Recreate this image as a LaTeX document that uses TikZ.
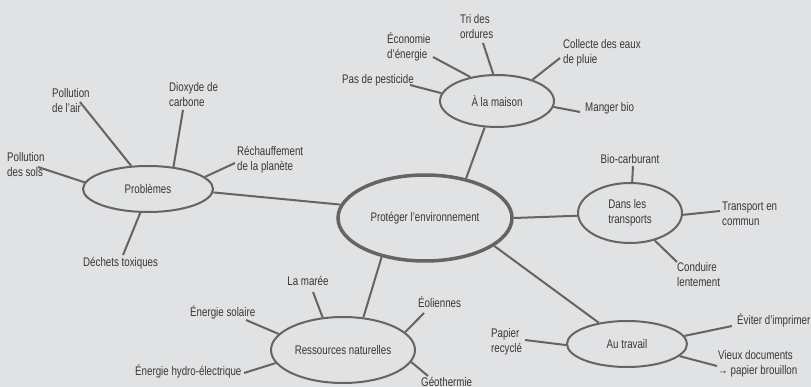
\documentclass[tikz,border=0pt]{standalone}
\usepackage{fontspec}
\setmainfont{Liberation Sans}[FakeStretch=0.78]
\usetikzlibrary{shapes.geometric}
\definecolor{bg}{RGB}{225,226,228}
\definecolor{ln}{RGB}{100,100,100}
\definecolor{tx}{RGB}{55,55,55}
\tikzset{
  base/.style={font=\fontsize{12.5}{15}\selectfont, text=tx},
  leaf/.style={base, inner sep=0pt, align=left},
  hub/.style={base, ellipse, draw=ln, line width=2pt, inner sep=0pt, align=left},
  conn/.style={draw=ln, line width=2pt},
}
\begin{document}
\begin{tikzpicture}[x=1pt,y=-1pt]
\fill[bg] (0,0) rectangle (811,387);
\useasboundingbox (0,0) rectangle (811,387);

% hubs
\node[hub, line width=3.5pt, minimum width=174pt, minimum height=86pt] (central) at (425,218) {Protéger l'environnement};
\node[hub, minimum width=130pt, minimum height=46pt] (prob) at (148,189) {Problèmes};
\node[hub, minimum width=114pt, minimum height=52pt] (maison) at (497,101) {À la maison};
\node[hub, minimum width=104pt, minimum height=60pt] (trans) at (630,213) {Dans les\\transports};
\node[hub, minimum width=144pt, minimum height=66pt] (ress) at (343,350) {Ressources naturelles};
\node[hub, minimum width=120pt, minimum height=46pt] (trav) at (627,344) {Au travail};

% leaves
\node[leaf, anchor=west] (air) at (52,101) {Pollution\\de l'air};
\node[leaf, anchor=west] (diox) at (169,95) {Dioxyde de\\carbone};
\node[leaf, anchor=west] (rech) at (237,160) {Réchauffement\\de la planète};
\node[leaf, anchor=west] (sols) at (7,165) {Pollution\\des sols};
\node[leaf, anchor=west] (dech) at (83,263) {Déchets toxiques};

\node[leaf, anchor=west] (pest) at (342,80) {Pas de pesticide};
\node[leaf, anchor=west] (eco) at (387,47) {Économie\\d'énergie};
\node[leaf, anchor=west] (tri) at (460,27) {Tri des\\ordures};
\node[leaf, anchor=west] (coll) at (563,53) {Collecte des eaux\\de pluie};
\node[leaf, anchor=west] (mang) at (585,108) {Manger bio};

\node[leaf] (bio) at (630,159) {Bio-carburant};
\node[leaf, anchor=west] (tec) at (722,214) {Transport en\\commun};
\node[leaf, anchor=west] (cond) at (677,275) {Conduire\\lentement};

\node[leaf] (maree) at (308,281) {La marée};
\node[leaf, anchor=west] (sol) at (190,312) {Énergie solaire};
\node[leaf, anchor=west] (hydro) at (135,371) {Énergie hydro-électrique};
\node[leaf, anchor=west] (eol) at (418,302) {Éoliennes};
\node[leaf, anchor=west] (geo) at (421,382) {Géothermie};

\node[leaf, anchor=west] (pap) at (491,342) {Papier\\recyclé};
\node[leaf, anchor=west] (evit) at (737,320) {Éviter d'imprimer};
\node[leaf, anchor=west] (vieux) at (718,364) {Vieux documents\\→ papier brouillon};

% free ends
\coordinate (e-air) at (80,102);
\coordinate (e-diox) at (183,110);
\coordinate (e-rech) at (235,163);
\coordinate (e-sols) at (38,167);
\coordinate (e-dech) at (123,255);
\coordinate (e-pest) at (410,85);
\coordinate (e-eco) at (433,57);
\coordinate (e-tri) at (483,43);
\coordinate (e-coll) at (560,58);
\coordinate (e-mang) at (580,112);
\coordinate (e-bio) at (633,166);
\coordinate (e-tec) at (720,211);
\coordinate (e-cond) at (677,262);
\coordinate (e-maree) at (313,292);
\coordinate (e-sol) at (246,320);
\coordinate (e-hydro) at (244,373);
\coordinate (e-eol) at (424,313);
\coordinate (e-geo) at (428,376);
\coordinate (e-pap) at (525,340);
\coordinate (e-evit) at (732,326);
\coordinate (e-vieux) at (717,366);

% connectors between hubs
\draw[conn] (central.171) -- (prob.357);
\draw[conn] (central.44) -- (maison.245);
\draw[conn] (central.0) -- (trans.183);
\draw[conn] (central.338) -- (trav.143);
\draw[conn] (central.222) -- (ress.58);

% leaf connectors
\draw[conn] (e-air) -- (prob.126);
\draw[conn] (e-diox) -- (prob.41);
\draw[conn] (e-rech) -- (prob.12);
\draw[conn] (e-sols) -- (prob.174);
\draw[conn] (e-dech) -- (prob.252);

\draw[conn] (e-pest) -- (maison.172);
\draw[conn] (e-eco) -- (maison.138);
\draw[conn] (e-tri) -- (maison.98);
\draw[conn] (e-coll) -- (maison.31);
\draw[conn] (e-mang) -- (maison.354);

\draw[conn] (e-bio) -- (trans.86);
\draw[conn] (e-tec) -- (trans.358);
\draw[conn] (e-cond) -- (trans.312);

\draw[conn] (e-maree) -- (ress.122);
\draw[conn] (e-sol) -- (ress.166);
\draw[conn] (e-hydro) -- (ress.191);
\draw[conn] (e-eol) -- (ress.16);
\draw[conn] (e-geo) -- (ress.350);

\draw[conn] (e-pap) -- (trav.181);
\draw[conn] (e-evit) -- (trav.8);
\draw[conn] (e-vieux) -- (trav.347);
\end{tikzpicture}
\end{document}
